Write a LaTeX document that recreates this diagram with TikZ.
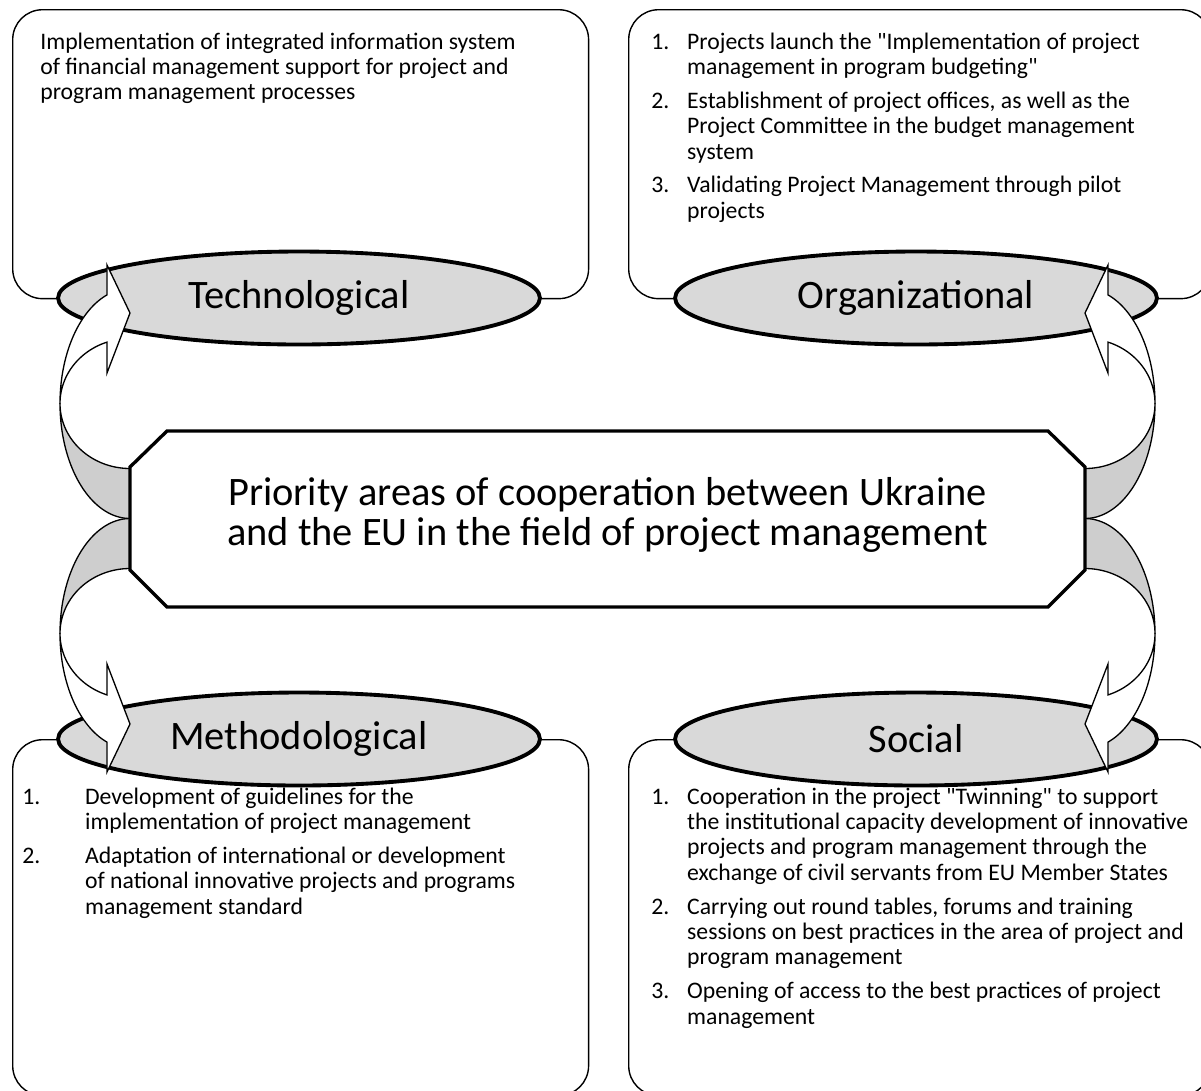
\documentclass[tikz,border=0pt]{standalone}
\usepackage{fontspec}
\setmainfont{Carlito}
\usetikzlibrary{shapes.geometric}

\definecolor{ovalgrey}{RGB}{217,217,217}
\definecolor{bandgrey}{RGB}{206,206,206}

\tikzset{
  box/.style={draw, line width=0.8pt, rounded corners=17pt, inner sep=0pt},
  oval/.style={ellipse, draw, line width=2.2pt, fill=ovalgrey, minimum width=9.64cm,
    minimum height=1.86cm, inner sep=0pt, font=\fontsize{23}{27}\selectfont},
  listtext/.style={anchor=base west, inner sep=0pt, font=\fontsize{13.5}{14.46}\selectfont},
  bentarrow/.pic={
    % back of the band
    \filldraw[fill=bandgrey, line width=0.75pt, line join=round]
      (-547.5,-115) -- plot[domain=180:90, samples=40] ({-477.5+70*cos(\x)}, {-115+115*sin(\x)})
      -- plot[domain=90:180, samples=40] ({-477.5+70*cos(\x)}, {-115+65*sin(\x)}) -- cycle;
    % front of the band and the head
    \filldraw[fill=white, line width=0.75pt, line join=miter]
      (-547.5,-115) -- plot[domain=180:250.8, samples=40] ({-477.5+70*cos(\x)}, {-115+115*sin(\x)})
      -- (-500.5,-253.5) -- (-477.5,-205.5) -- (-500.5,-145.5)
      -- plot[domain=250.8:180, samples=40] ({-477.5+70*cos(\x)}, {-115+65*sin(\x)}) -- cycle;
  }
}

\begin{document}
\begin{tikzpicture}[x=0.02cm, y=-0.02cm]
  \useasboundingbox (0,0) rectangle (1201,1090);
  \clip (0,0) rectangle (1201,1090);

  % the four boxes
  \node[box, anchor=north west, minimum width=11.52cm, minimum height=5.78cm] (techbox) at (12,9) {};
  \node[box, anchor=north west, minimum width=11.64cm, minimum height=5.78cm] (orgbox) at (628,9) {};
  \node[box, anchor=north west, minimum width=11.52cm, minimum height=7.12cm] (methbox) at (12,739) {};
  \node[box, anchor=north west, minimum width=11.64cm, minimum height=7.12cm] (socbox) at (628,739) {};

  \node[listtext] (techtext) at (40,49) {\begin{tabular}[t]{@{}l@{}}
    Implementation of integrated information system\\
    of financial management support for project and\\
    program management processes
  \end{tabular}};

  \node[listtext] (orgtext) at (651,49) {\begin{tabular}[t]{@{}p{20.4pt}@{}l@{}}
    1. & Projects launch the \textquotedbl Implementation of project\\
       & management in program budgeting\textquotedbl\\[4.8pt]
    2. & Establishment of project offices, as well as the\\
       & Project Committee in the budget management\\
       & system\\[4.8pt]
    3. & Validating Project Management through pilot\\
       & projects
  \end{tabular}};

  \node[listtext] (methtext) at (22,804) {\begin{tabular}[t]{@{}p{35.7pt}@{}l@{}}
    1. & Development of guidelines for the\\
       & implementation of project management\\[4.8pt]
    2. & Adaptation of international or development\\
       & of national innovative projects and programs\\
       & management standard
  \end{tabular}};

  \node[listtext] (soctext) at (651,804) {\begin{tabular}[t]{@{}p{20.4pt}@{}l@{}}
    1. & Cooperation in the project \textquotedbl Twinning\textquotedbl\ to support\\
       & the institutional capacity development of innovative\\
       & projects and program management through the\\
       & exchange of civil servants from EU Member States\\[4.8pt]
    2. & Carrying out round tables, forums and training\\
       & sessions on best practices in the area of project and\\
       & program management\\[4.8pt]
    3. & Opening of access to the best practices of project\\
       & management
  \end{tabular}};

  % the four areas
  \node[oval] (tech) at (299,298) {Technological};
  \node[oval] (org) at (916,298) {Organizational};
  \node[oval] (meth) at (299,739) {Methodological};
  \node[oval] (soc) at (916,739) {Social};

  % bent arrows from the centre to the areas
  \coordinate (mid) at (607.5,518.5);
  \pic at (mid) {bentarrow};
  \pic[xscale=-1] at (mid) {bentarrow};
  \pic[yscale=-1] at (mid) {bentarrow};
  \pic[xscale=-1, yscale=-1] at (mid) {bentarrow};

  % centre
  \draw[line width=1.9pt, fill=white] (167,431) -- (1048,431) -- (1085,467) -- (1085,570)
    -- (1048,607) -- (167,607) -- (130,570) -- (130,467) -- cycle;
  \node[align=center, font=\fontsize{23}{22.7}\selectfont] (focus) at (607.5,515)
    {Priority areas of cooperation between Ukraine\\and the EU in the field of project management};
\end{tikzpicture}
\end{document}
